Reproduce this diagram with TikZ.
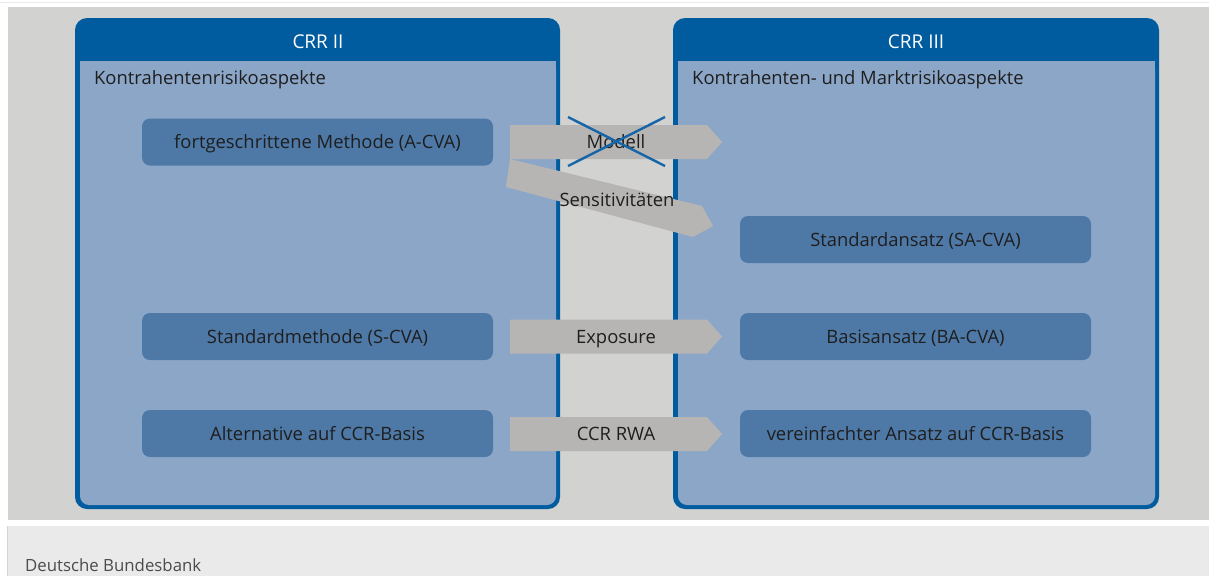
\documentclass[tikz,border=0pt]{standalone}
\usepackage{fontspec}
\setmainfont{Open Sans}
\definecolor{bggray}{HTML}{D2D2D1}
\definecolor{footgray}{HTML}{EAEAEA}
\definecolor{frameblue}{HTML}{005C9E}
\definecolor{panelblue}{HTML}{8CA6C8}
\definecolor{nodeblue}{HTML}{4E79A7}
\definecolor{arrowgray}{HTML}{B6B5B3}
\definecolor{txt}{HTML}{1E1E1E}
\definecolor{crossblue}{HTML}{1565A8}
\tikzset{
  bodyfont/.style={font=\fontsize{18.4}{21}\selectfont, text height=13.1pt, text depth=0pt},
  box/.style={fill=nodeblue, rounded corners=8pt, minimum width=351pt, minimum height=47pt, inner sep=0pt, text=txt, bodyfont},
  lbl/.style={text=txt, bodyfont, inner sep=0pt},
  head/.style={text=white, font=\fontsize{19}{22}\selectfont, text height=13.6pt, text depth=0pt, inner sep=0pt},
  sub/.style={text=txt, bodyfont, inner sep=0pt, anchor=west}
}
\newcommand{\blockarr}[3]{% left x, center y, name
  \fill[arrowgray] (#1,#2-17) -- (#1+197,#2-17) -- (#1+212,#2) -- (#1+197,#2+17) -- (#1,#2+17) -- cycle;
  \coordinate (#3) at (#1+106,#2);}
\begin{document}
\begin{tikzpicture}[x=1pt,y=-1pt]
\useasboundingbox (0,0) rectangle (1209,576);
\fill[white] (0,0) rectangle (1209,576);
\fill[footgray] (0,2) rectangle (1209,3);
\fill[bggray] (8,7) rectangle (1209,520);
\fill[footgray] (8,526) rectangle (1209,576);
\fill[footgray!80!gray] (7,526) rectangle (8,576);
% panels
\fill[frameblue, rounded corners=12pt] (75,18) rectangle (560,509);
\fill[panelblue, rounded corners=9pt] (80,61) rectangle (556,505);
\fill[panelblue] (80,61) rectangle (556,80);
\fill[frameblue, rounded corners=12pt] (673,18) rectangle (1159,509);
\fill[panelblue, rounded corners=9pt] (678,61) rectangle (1155,505);
\fill[panelblue] (678,61) rectangle (1155,80);
\node[head] (t2) at (318,41.5) {CRR II};
\node[head] (t3) at (916,41.5) {CRR III};
\node[sub] (s2) at (94,77.5) {Kontrahentenrisikoaspekte};
\node[sub] (s3) at (692,77.5) {Kontrahenten- und Marktrisikoaspekte};
% nodes
\node[box] (acva) at (317.5,142) {fortgeschrittene Methode (A-CVA)};
\node[box] (scva) at (317.5,336.5) {Standardmethode (S-CVA)};
\node[box] (alt) at (317.5,433.5) {Alternative auf CCR-Basis};
\node[box] (sacva) at (915.5,239.5) {Standardansatz (SA-CVA)};
\node[box] (bacva) at (915.5,336.5) {Basisansatz (BA-CVA)};
\node[box] (vccr) at (915.5,433.5) {vereinfachter Ansatz auf CCR-Basis};
% arrows
\coordinate (dA) at (510,159);
\coordinate (dB) at (702,206);
\coordinate (dC) at (713,226);
\coordinate (dD) at (693,237);
\coordinate (dE) at (506,187);
\fill[arrowgray] (dA) -- (dB) -- (dC) -- (dD) -- (dE) -- cycle;
\node[lbl] (sens) at (617,199.5) {Sensitivitäten};
\blockarr{510}{142}{cm}
\node[lbl] (modell) at (616,142) {Modell};
\blockarr{510}{336.5}{ce}
\node[lbl] (expo) at (616,336.5) {Exposure};
\blockarr{510}{434}{cc}
\node[lbl] (ccr) at (616,434) {CCR RWA};
\draw[crossblue, line width=2.4pt] (568,117) -- (665,166);
\draw[crossblue, line width=2.4pt] (568,166) -- (665,117);
\node[anchor=west, text=txt!80, font=\fontsize{16.8}{20}\selectfont, inner sep=0pt] (foot) at (25,565) {Deutsche Bundesbank};
\end{tikzpicture}
\end{document}
